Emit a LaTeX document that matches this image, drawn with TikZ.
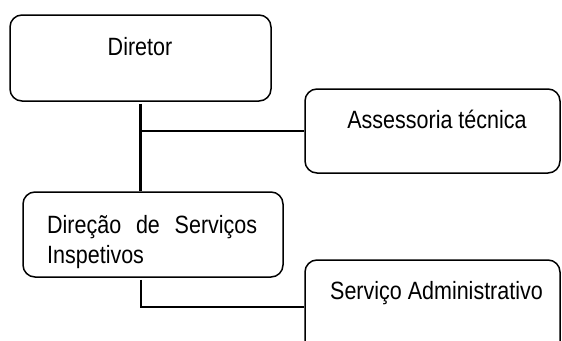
\documentclass[tikz,border=0pt]{standalone}
\usepackage{fontspec}
\setmainfont{Liberation Sans}[FakeStretch=0.86]
\begin{document}
\begin{tikzpicture}[x=1pt,y=-1pt,
  box/.style={draw=black,line width=1.5pt,rounded corners=12pt,inner sep=0pt,fill=white},
  lbl/.style={inner sep=0pt,font=\fontsize{25}{30}\selectfont,text=black},
  conn/.style={line width=2pt,draw=black},
  trunk/.style={line width=3pt,draw=black}]
\useasboundingbox (0,0) rectangle (562,340);
\clip (0,0) rectangle (562,340);
% boxes
\node[box,minimum width=261pt,minimum height=86pt] (dir) at (140.5,58) {};
\node[box,minimum width=255pt,minimum height=84pt] (ass) at (432.5,131) {};
\node[box,minimum width=260pt,minimum height=85pt] (dsi) at (153,234.5) {};
\node[box,minimum width=255pt,minimum height=94pt] (sa) at (432.5,307) {};
% labels
\node[lbl,anchor=base] (tdir) at (140,55) {Diretor};
\node[lbl,anchor=base] (tass) at (437,128) {Assessoria técnica};
\node[lbl,anchor=base west] (tdsi1) at (47,233) {\makebox[210pt][s]{Direção de Serviços}};
\node[lbl,anchor=base west] (tdsi2) at (47,263) {Inspetivos};
\node[lbl,anchor=base] (tsa) at (436.5,299) {Serviço Administrativo};
% connectors
\draw[trunk] ([yshift=-2pt]dir.south) -- (dir.south |- dsi.north);
\draw[conn] (dir.south |- ass.west) -- (ass.west);
\draw[conn] ([yshift=-2pt]dir.south |- dsi.south) |- (sa.west);
\end{tikzpicture}
\end{document}
